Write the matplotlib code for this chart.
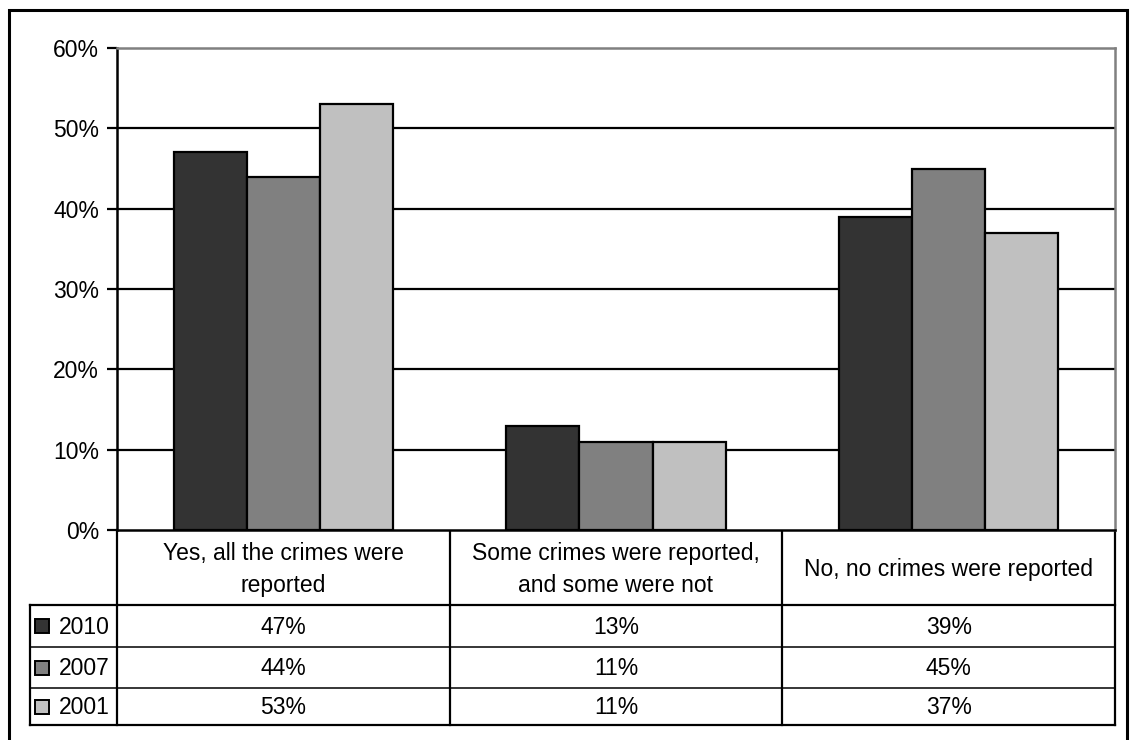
import matplotlib.pyplot as plt
from matplotlib.patches import Rectangle
from matplotlib.ticker import FixedLocator, FuncFormatter

plt.rcParams['font.family'] = ['Liberation Sans', 'DejaVu Sans']

# survey answers and shares per year (%)
categories = ["Yes, all the crimes were\nreported",
              "Some crimes were reported,\nand some were not",
              "No, no crimes were reported"]
years = ["2010", "2007", "2001"]
v2010 = [47, 13, 39]
v2007 = [44, 11, 45]
v2001 = [53, 11, 37]
series = [v2010, v2007, v2001]
colors = ["#333333", "#808080", "#c0c0c0"]
yticks = [0, 10, 20, 30, 40, 50, 60]

W, H = 1131, 740
fig = plt.figure(figsize=(W / 100, H / 100), dpi=100)
FS = 16.5


def box(x0, y0, x1, y1):
    # pixel box (top-left origin) -> figure fraction rect
    return [x0 / W, 1 - y1 / H, (x1 - x0) / W, (y1 - y0) / H]


L, T, R, B = 117, 48, 1115, 530
ax = fig.add_axes(box(L, T, R, B))

bw = 0.22
for i, (vals, col) in enumerate(zip(series, colors)):
    xs = [k + (i - 1) * bw for k in range(len(categories))]
    ax.bar(xs, vals, width=bw, color=col, edgecolor="black", linewidth=1.6, zorder=3)

ax.set_xlim(-0.5, len(categories) - 0.5)
ax.set_ylim(0, 60)
ax.yaxis.set_major_locator(FixedLocator(yticks))
ax.yaxis.set_major_formatter(FuncFormatter(lambda v, p: f"{v:.0f}%"))
ax.set_xticks([])
ax.tick_params(axis="y", direction="out", length=7, width=1.6, pad=6,
               labelsize=FS, colors="black")
for yv in yticks[1:-1]:
    ax.axhline(yv, color="black", lw=1.6, zorder=1)
ax.spines["left"].set_linewidth(1.8)
ax.spines["bottom"].set_linewidth(1.8)
ax.spines["top"].set_color("#808080")
ax.spines["right"].set_color("#808080")
ax.spines["top"].set_linewidth(1.8)
ax.spines["right"].set_linewidth(1.8)

# overlay in pixel coordinates for the frame and the data table
ov = fig.add_axes([0, 0, 1, 1], zorder=-1)
ov.set_xlim(0, W)
ov.set_ylim(H, 0)
ov.axis("off")

# outer frame (bottom edge runs off the image)
ov.plot([8.5, 8.5, 1127, 1127], [745, 10, 10, 745], color="black", lw=2.2,
        solid_joinstyle="miter")

cols = [L + (R - L) * k / len(categories) for k in range(len(categories) + 1)]
rows = [605, 647, 688, 725]
leg_left = 30
lw_t = 1.6

# header cells
for xc in cols:
    ov.plot([xc, xc], [B, rows[-1]], color="black", lw=lw_t)
ov.plot([leg_left, leg_left], [rows[0], rows[-1]], color="black", lw=lw_t)
ov.plot([leg_left, R], [rows[0], rows[0]], color="black", lw=lw_t)
ov.plot([leg_left, R], [rows[-1], rows[-1]], color="black", lw=lw_t)
for yr in rows[1:-1]:
    ov.plot([leg_left, R], [yr, yr], color="black", lw=1.1)

for k, cat in enumerate(categories):
    cx = (cols[k] + cols[k + 1]) / 2
    ov.text(cx, (B + rows[0]) / 2 + 2, cat, ha="center", va="center",
            fontsize=FS, linespacing=1.55)

for r, (yr, vals, col) in enumerate(zip(years, series, colors)):
    cy = (rows[r] + rows[r + 1]) / 2
    ov.add_patch(Rectangle((35, cy - 7), 14, 14, facecolor=col,
                           edgecolor="black", lw=1.4))
    ov.text(59, cy + 1, yr, ha="left", va="center", fontsize=FS)
    for k, v in enumerate(vals):
        cx = (cols[k] + cols[k + 1]) / 2
        ov.text(cx, cy + 1, f"{v}%", ha="center", va="center", fontsize=FS)

fig.savefig("out.png", dpi=100)
